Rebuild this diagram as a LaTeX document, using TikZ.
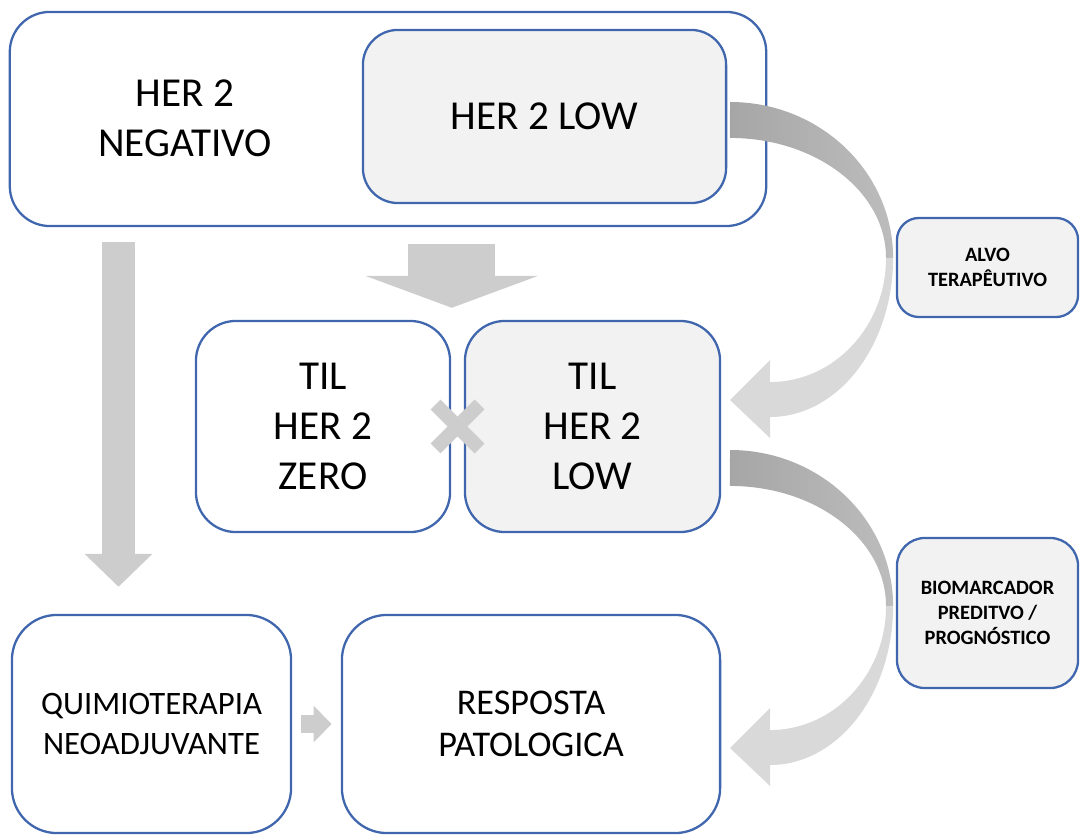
\documentclass[tikz,border=0pt]{standalone}
\usepackage{fontspec}
\setmainfont{Carlito}
\usetikzlibrary{arrows.meta, calc}

\definecolor{boxblue}{HTML}{4066AE}
\definecolor{boxfill}{HTML}{F2F2F2}
\definecolor{arrowgray}{HTML}{CDCDCD}
\definecolor{arrowdark}{HTML}{A6A6A6}
\definecolor{arrowlight}{HTML}{D9D9D9}

\begin{document}
\begin{tikzpicture}[
  x=0.01cm, y=-0.01cm,
  box/.style={draw=boxblue, line width=0.65pt, rounded corners=0.4cm, inner sep=0pt},
  lowbox/.style={box, fill=boxfill},
  big/.style={align=center, font=\fontsize{11.7}{14.2}\selectfont},
  tagbox/.style={box, fill=boxfill, rounded corners=0.22cm, align=center,
    font=\fontsize{5.8}{7.1}\selectfont\bfseries},
  blockarrow/.style={draw=arrowgray},
  xmark/.style={draw=arrowgray, line width=1.4mm},
]
  \useasboundingbox (0,0) rectangle (1080,834);

  % HER 2 negativo / low
  \node[box, minimum width=7.56cm, minimum height=2.14cm] (neg) at (388,119) {};
  \node[big] (negtxt) at (185,118) {HER 2\\NEGATIVO};
  \node[lowbox, big, minimum width=3.63cm, minimum height=1.73cm, rounded corners=0.35cm]
    (low) at (544.5,116.5) {HER 2 LOW};

  % TIL boxes
  \node[box, big, minimum width=2.54cm, minimum height=2.11cm] (tilzero) at (323,426.5) {TIL\\HER 2\\ZERO};
  \node[lowbox, big, minimum width=2.55cm, minimum height=2.11cm] (tillow) at (592.5,426.5) {TIL\\HER 2\\LOW};

  % Bottom row
  \node[box, rounded corners=0.45cm, align=center, font=\fontsize{9.3}{11.4}\selectfont,
    minimum width=2.79cm, minimum height=2.18cm] (quimio) at (151.5,724) {QUIMIOTERAPIA\\NEOADJUVANTE};
  \node[box, rounded corners=0.45cm, align=center, font=\fontsize{10.3}{12}\selectfont,
    minimum width=3.78cm, minimum height=2.18cm] (resposta) at (531,724) {RESPOSTA\\PATOLOGICA};

  % Side tags
  \node[tagbox, minimum width=1.81cm, minimum height=0.99cm] (alvo) at (987.5,267.5) {ALVO\\TERAPÊUTIVO};
  \node[tagbox, minimum width=1.81cm, minimum height=1.5cm, rounded corners=0.28cm]
    (bio) at (987.5,613) {BIOMARCADOR\\PREDITVO /\\PROGNÓSTICO};

  % Straight arrows
  \draw[blockarrow, line width=3.3mm, -{Triangle[length=3.3mm, width=6.6mm]}]
    ($(quimio.north |- neg.south)+(-33,15)$) -- ($(quimio.north)+(-33,-27)$);
  \draw[blockarrow, line width=8.7mm, -{Triangle[length=3.2mm, width=17.2mm]}]
    ($(neg.south -| tillow.west)+(-12,17)$) -- ($(tillow.north west)+(-12,-12)$);
  \draw[blockarrow, line width=1.8mm, -{Triangle[length=1.8mm, width=3.5mm]}]
    ($(quimio.east)+(9,0)$) -- ($(resposta.west)+(-9,0)$);

  % Cross between TIL boxes
  \coordinate (cross) at ($(tilzero.east)!0.5!(tillow.west)$);
  \draw[xmark] ($(cross)+(-22,-22)$) -- ($(cross)+(22,22)$);
  \draw[xmark] ($(cross)+(-22,22)$) -- ($(cross)+(22,-22)$);

  % Curved arrows
  \foreach \dy in {0,348} {
    \begin{scope}[shift={(0,\dy)}]
      \shade[left color=arrowdark, right color=arrowdark!75!white]
        (730,102) arc[start angle=90, end angle=0, x radius=1.63cm, y radius=1.56cm]
        -- (886,258) arc[start angle=0, end angle=90, x radius=1.56cm, y radius=1.2cm] -- cycle;
      \fill[arrowlight]
        (886,258) arc[start angle=0, end angle=-90, x radius=1.16cm, y radius=1.24cm]
        -- (770,360) -- (730,400) -- (770,438) -- (770,417)
        arc[start angle=-90, end angle=0, x radius=1.23cm, y radius=1.59cm] -- cycle;
    \end{scope}
  }
\end{tikzpicture}
\end{document}
